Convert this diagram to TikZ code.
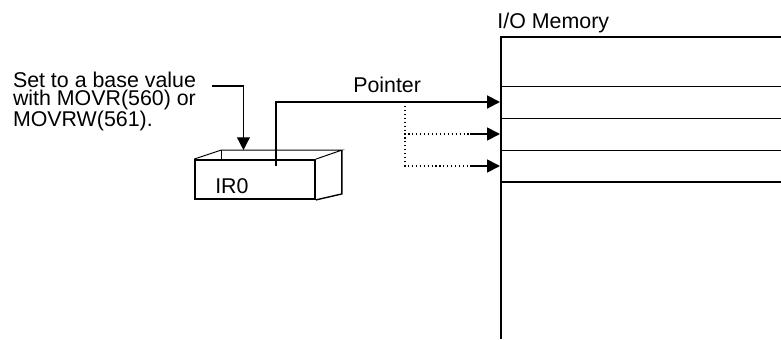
\documentclass[tikz,border=0pt]{standalone}
\usepackage{fontspec}
\setmainfont{Liberation Sans}
\usetikzlibrary{arrows.meta,positioning,calc}

\tikzset{
  lbl/.style={font=\fontsize{15.2}{10.9}\selectfont, inner sep=0pt},
  ptr/.style={line width=1.2pt, -{Triangle[length=0.32cm, width=0.32cm]}},
  branch/.style={line width=0.8pt, dotted},
  regface/.style={draw, line width=1.3pt, inner sep=0pt}
}

\begin{document}
\begin{tikzpicture}

    \useasboundingbox (0,0) rectangle (19.525,8.475);

    %% I/O memory area
    \draw[line width=1.4pt] (12.52,0) |- (19.525,7.55);
    \foreach \yy in {6.325,5.525,4.725}{
      \draw[line width=0.6pt] (12.52,\yy) -- (19.525,\yy);
    }
    \draw[line width=0.9pt] (12.52,3.925) -- (19.525,3.925);
    \node[lbl, anchor=base west] (memlabel) at (12.43,7.775) {I/O Memory};

    %% arrow targets on the memory edge
    \coordinate (m1) at (12.5,5.925);
    \coordinate (m2) at (12.5,5.125);
    \coordinate (m3) at (12.5,4.325);

    %% IR0 register box
    \node[regface, minimum width=3cm, minimum height=0.975cm]
      (ir0) at (6.375,3.9875) {};
    \node[lbl, anchor=base west] (irlabel) at (5.375,3.65) {IR0};
    \coordinate (bl)  at ($(ir0.north west)+(0.675,0.225)$);
    \coordinate (br)  at ($(ir0.north east)+(0.65,0.225)$);
    \coordinate (bbr) at ($(ir0.south east)+(0.65,0.15)$);
    \draw[line width=0.7pt] (ir0.north west) -- (bl) -- (br) -- (ir0.north east);
    \draw[line width=0.6pt] (bl) -- ++(0,-0.225);
    \draw[line width=1.0pt] (br) -- (bbr) -- (ir0.south east);

    %% note and its arrow into the box
    \node[lbl, align=left, anchor=north west]
      (note) at (0.318,6.67) {Set to a base value\\with MOVR(560) or\\MOVRW(561).};
    \coordinate (noteend) at (5.3,6.325);
    \coordinate (settip) at ($(bl)!0.185!(br)$);
    \draw[ptr, line width=1.0pt] (noteend) -| (settip);

    %% pointer from IR0 to memory
    \coordinate (ptrstart) at (6.9,4.325);
    \draw[ptr, line width=1.4pt] (ptrstart) |- (m1);
    \node[lbl, anchor=base west] (ptrlabel) at (8.825,6.175) {Pointer};

    %% offset branches
    \coordinate (fork) at (10.125,5.925);
    \coordinate (b2) at (11.75,5.125);
    \coordinate (b3) at (11.75,4.325);
    \draw[branch] (fork) |- (b2);
    \draw[branch] (fork) |- (b3);
    \draw[ptr] (b2) -- (m2);
    \draw[ptr] (b3) -- (m3);

  \end{tikzpicture}
\end{document}
